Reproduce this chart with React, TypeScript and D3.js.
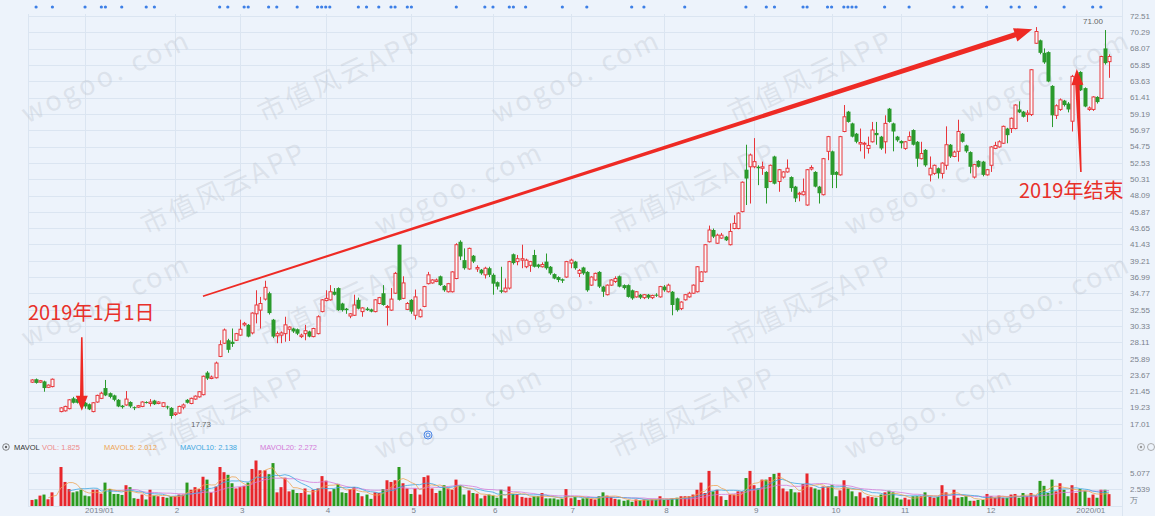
import React from 'react';
import * as d3 from 'd3';

const W = 1155;
const H = 516;

// ---- axis / label data ----
const priceTicks = [72.51, 70.29, 68.07, 65.85, 63.63, 61.41, 59.19, 56.97, 54.75, 52.53, 50.31, 48.09, 45.87, 43.65, 41.43, 39.21, 36.99, 34.77, 32.55, 30.33, 28.11, 25.89, 23.67, 21.45, 19.23, 17.01];
const volTicks = [5.077, 2.539];
const monthLabels = ['2019/01', '2', '3', '4', '5', '6', '7', '8', '9', '10', '11', '12', '2020/01'];
const monthStarts = [13, 35, 51, 72, 93, 113, 132, 155, 177, 196, 213, 234, 256];
const eventMarks = [1, 5, 13, 17, 18, 22, 28, 30, 46, 48, 52, 53, 58, 60, 65, 70, 71, 72, 73, 80, 82, 85, 88, 89, 92, 93, 104, 111, 113, 117, 118, 121, 130, 136, 147, 150, 160, 175, 180, 182, 189, 190, 195, 196, 199, 200, 201, 202, 209, 215, 226, 228, 234, 240, 242, 246, 253, 260, 262];
const legendNames = ['VOL', 'MAVOL5', 'MAVOL10', 'MAVOL20'];
const legendValues = [1.825, 2.012, 2.138, 2.272];
const maxLabel = 71.0;
const minLabel = 17.73;

// ---- daily candles (index 6 = no trading) ----
const opens = [22.7, 23.1, 22.7, 22.8, 22.0, 22.1, null, 18.7, 18.8, 19.1, 20.5, 20.4, 20.0, 19.9, 19.7, 18.7, 20.0, 20.5, 21.9, 21.2, 20.9, 20.3, 19.5, 19.6, 20.0, 19.3, 19.3, 19.4, 20.0, 19.8, 20.2, 19.8, 19.4, 19.4, 19.2, 18.3, 18.5, 19.3, 20.3, 19.8, 20.4, 20.7, 21.0, 24.0, 23.2, 23.3,
  26.2, 28.0, 28.4, 28.2, 28.4, 29.1, 30.5, 30.5, 29.4, 32.0, 32.5, 34.0, 34.8, 31.2, 29.0, 29.1, 29.3, 29.9, 30.0, 29.9, 28.9, 29.3, 29.6, 28.9, 29.3, 32.3, 33.8, 33.9, 35.0, 35.5, 33.4, 32.7, 31.7, 31.8, 33.9, 32.3, 32.7, 32.6, 32.3, 33.4, 34.8, 32.9, 32.5, 34.8, 41.4, 34.1, 32.6, 33.9, 31.8, 31.6, 33.0, 36.1, 36.2, 36.4, 37.1, 35.8, 35.0,
  35.0, 36.8, 41.8, 39.3, 38.1, 39.9, 38.1, 38.0, 37.3, 38.2, 37.3, 36.3, 35.2, 35.0, 35.5, 40.1, 39.1, 39.3, 38.4, 38.6, 40.0, 38.7, 38.4, 39.1, 38.4, 37.4, 37.0, 36.7, 37.0, 38.9, 39.1, 37.5, 38.3, 37.7, 35.9, 36.6, 37.7, 35.7, 34.6, 35.9, 36.4, 37.1, 35.9, 35.9, 35.2, 34.3, 34.6, 34.2, 34.6, 34.2, 34.6, 34.3, 35.7, 35.0, 35.0, 34.1, 32.7, 33.9, 34.3, 34.8, 35.0, 36.4, 37.7, 41.8, 43.4, 41.6, 42.3, 42.5,
  41.4, 43.6, 43.6, 45.9, 51.6, 52.0, 52.0, 52.0, 51.8, 51.3, 50.0, 53.4, 50.0, 50.6, 51.3, 50.6, 49.3, 48.3, 48.2, 46.8, 51.7, 51.3, 49.3, 48.2, 54.1, 54.1, 51.3, 50.9, 56.8, 59.5, 57.9, 56.5, 55.1, 55.1, 54.5, 55.4, 56.6, 56.1, 55.4, 59.9, 57.9, 56.1, 55.5, 54.5, 55.6, 57.0, 55.4, 53.1, 54.3, 50.9, 51.1, 51.8, 51.1, 52.2, 55.0, 53.4, 54.1, 56.5, 54.9, 54.0, 50.6, 52.8, 52.7, 50.9, 52.2, 54.5, 54.7,
  55.2, 57.2, 57.2, 57.2, 59.8, 59.5, 59.1, 59.1, 68.8, 69.2, 67.5, 67.6, 63.0, 59.0, 59.8, 61.0, 60.6, 58.2, 63.3, 64.9, 62.7, 59.8, 59.8, 61.5, 61.3, 68.1, 66.3];
const closes = [23.0, 22.6, 22.9, 21.9, 22.3, 23.1, null, 19.2, 19.4, 20.3, 19.9, 19.9, 19.8, 19.4, 19.0, 19.9, 20.9, 21.2, 20.9, 20.7, 20.3, 19.4, 19.3, 20.4, 19.4, 19.2, 19.5, 20.0, 19.9, 20.0, 19.7, 20.0, 19.9, 19.3, 18.1, 18.5, 19.4, 19.6, 19.9, 20.5, 20.8, 21.4, 23.5, 23.2, 23.4, 25.3,
  27.8, 29.8, 27.1, 27.9, 29.3, 29.9, 30.7, 28.9, 32.1, 33.2, 33.4, 35.6, 32.1, 28.9, 29.3, 29.4, 30.5, 30.2, 29.6, 29.3, 29.1, 29.7, 28.9, 30.0, 31.6, 33.9, 34.1, 35.0, 34.6, 32.5, 32.5, 32.5, 32.0, 33.2, 32.7, 32.8, 32.5, 32.3, 33.9, 34.2, 33.2, 33.0, 34.0, 37.5, 33.9, 36.2, 33.4, 32.3, 34.3, 32.5, 35.7, 37.3, 36.6, 36.6, 35.9, 35.2, 36.1,
  37.7, 41.4, 39.8, 38.2, 40.9, 39.1, 38.3, 37.5, 38.2, 37.3, 36.1, 35.7, 35.0, 35.5, 39.1, 38.9, 39.5, 39.5, 39.3, 39.1, 38.4, 38.4, 38.7, 38.2, 37.5, 36.8, 36.6, 36.5, 39.1, 39.3, 38.2, 37.9, 37.5, 35.2, 37.0, 37.5, 35.7, 35.0, 35.9, 36.6, 36.8, 35.7, 35.5, 34.3, 34.1, 35.0, 34.2, 34.6, 34.2, 34.5, 34.5, 35.7, 35.2, 35.9, 33.2, 32.5, 33.6, 34.6, 34.8, 35.9, 38.4, 37.7, 41.4, 43.4, 42.5, 42.7, 42.7, 42.0,
  43.2, 44.3, 45.7, 49.9, 50.4, 53.6, 52.7, 51.8, 52.0, 49.1, 52.2, 49.7, 51.6, 51.3, 51.8, 49.1, 47.7, 48.4, 48.6, 51.6, 51.9, 49.3, 48.4, 53.1, 56.1, 50.9, 50.9, 56.1, 58.8, 58.1, 56.1, 55.4, 55.3, 55.2, 54.9, 57.0, 56.3, 54.5, 57.9, 58.1, 56.8, 55.6, 55.2, 55.4, 56.1, 55.0, 53.1, 53.8, 52.2, 51.8, 52.2, 51.1, 52.5, 55.0, 53.4, 54.0, 56.8, 55.4, 54.1, 52.0, 52.3, 52.0, 50.9, 51.6, 54.7, 54.9, 55.4,
  57.5, 56.3, 58.6, 60.4, 59.4, 58.8, 59.3, 65.2, 70.4, 67.5, 66.2, 63.6, 59.0, 60.3, 61.1, 60.4, 59.8, 64.3, 64.1, 62.4, 60.2, 60.0, 61.5, 60.8, 67.0, 66.1, 67.0];
const highs = [23.1, 23.2, 23.0, 22.9, 22.4, 23.2, null, 19.3, 19.5, 20.4, 20.7, 20.5, 20.1, 20.0, 19.8, 20.0, 21.0, 21.4, 23.0, 21.3, 21.0, 20.4, 19.6, 21.5, 20.1, 19.4, 19.6, 20.1, 20.1, 20.4, 20.3, 20.1, 20.0, 19.5, 19.3, 18.6, 19.5, 19.8, 20.4, 20.6, 20.9, 21.5, 23.6, 24.2, 23.6, 25.5,
  28.4, 30.0, 28.6, 30.0, 29.4, 31.2, 30.9, 30.6, 32.2, 35.2, 34.3, 36.5, 35.0, 31.3, 29.6, 29.6, 31.6, 30.3, 30.1, 30.0, 29.3, 30.5, 29.7, 30.1, 31.8, 34.0, 35.2, 35.9, 35.5, 35.6, 33.5, 32.8, 32.1, 34.6, 34.2, 32.9, 32.9, 32.7, 34.0, 34.3, 35.9, 33.2, 35.5, 37.7, 41.4, 37.1, 33.6, 34.0, 35.3, 32.7, 35.8, 37.7, 36.7, 36.8, 37.2, 35.9, 36.2,
  37.8, 41.6, 42.0, 40.9, 41.0, 40.0, 38.6, 38.1, 38.4, 38.4, 37.5, 36.4, 38.4, 36.8, 39.2, 40.2, 40.0, 41.4, 39.5, 39.2, 40.7, 38.8, 39.0, 40.2, 38.5, 37.5, 37.1, 36.8, 39.2, 39.5, 39.2, 38.1, 38.4, 37.8, 37.1, 37.6, 37.8, 35.8, 36.0, 36.7, 37.1, 37.2, 36.0, 36.0, 35.3, 35.1, 34.7, 34.7, 34.7, 34.6, 34.8, 35.8, 35.9, 36.1, 35.1, 34.2, 33.7, 34.7, 35.0, 36.0, 38.5, 37.8, 41.5, 44.0, 43.6, 42.9, 43.0, 42.6,
  44.3, 45.4, 45.8, 50.0, 55.0, 53.8, 55.9, 52.2, 52.7, 51.4, 52.3, 53.5, 51.7, 51.4, 53.0, 50.7, 49.4, 48.6, 50.4, 51.7, 52.2, 51.4, 49.4, 53.2, 56.2, 54.2, 51.4, 56.2, 60.4, 59.6, 58.0, 56.6, 57.2, 55.4, 56.1, 58.1, 58.1, 56.2, 59.0, 60.0, 58.0, 56.2, 55.6, 55.5, 56.8, 57.1, 55.5, 55.4, 54.4, 53.4, 52.3, 51.9, 52.6, 57.5, 55.1, 54.2, 58.4, 56.6, 55.0, 54.1, 52.4, 52.9, 52.8, 51.7, 54.8, 55.4, 55.6,
  57.6, 57.3, 58.7, 60.5, 60.9, 59.6, 59.7, 65.3, 71.0, 69.3, 68.1, 67.7, 63.1, 60.5, 61.3, 61.1, 60.8, 64.5, 64.6, 65.0, 62.8, 60.2, 61.6, 61.6, 67.1, 70.6, 67.3];
const lows = [22.6, 22.5, 22.6, 21.4, 21.9, 22.0, null, 18.6, 18.7, 19.0, 19.8, 19.8, 19.3, 19.1, 18.9, 18.6, 19.9, 20.4, 20.8, 20.5, 20.1, 19.3, 19.1, 19.5, 19.2, 18.9, 19.2, 19.3, 19.8, 19.4, 19.6, 19.7, 19.3, 19.0, 17.73, 18.1, 18.4, 19.0, 19.8, 19.7, 20.3, 20.6, 20.9, 23.0, 23.1, 23.2,
  26.1, 27.9, 26.7, 27.5, 28.3, 29.0, 30.3, 28.8, 29.2, 30.7, 30.0, 33.8, 31.9, 28.7, 28.0, 28.0, 28.2, 28.3, 29.4, 29.1, 28.7, 28.4, 28.8, 28.8, 29.2, 32.2, 33.7, 33.8, 34.5, 32.4, 32.3, 32.0, 31.4, 31.7, 32.6, 31.6, 32.4, 32.2, 32.2, 33.3, 33.1, 30.4, 32.4, 34.7, 33.8, 34.0, 32.5, 32.0, 31.2, 31.5, 32.9, 36.0, 36.1, 36.3, 35.8, 35.0, 34.9,
  34.9, 36.7, 39.3, 38.0, 38.0, 38.9, 37.7, 37.3, 36.8, 37.0, 34.6, 35.3, 34.8, 34.9, 35.3, 38.7, 38.6, 38.2, 38.2, 37.7, 38.3, 38.2, 38.3, 38.0, 37.3, 36.7, 36.3, 36.2, 36.9, 38.2, 38.0, 37.0, 37.3, 35.0, 35.8, 36.5, 35.5, 34.3, 34.5, 35.8, 36.2, 35.6, 35.3, 34.2, 33.9, 34.2, 34.0, 34.0, 34.0, 34.0, 34.3, 34.2, 35.0, 34.9, 31.8, 32.3, 32.5, 33.8, 34.2, 34.7, 34.9, 36.3, 37.6, 41.7, 42.3, 41.5, 42.2, 41.9,
  41.3, 43.5, 43.5, 45.8, 46.8, 47.0, 51.8, 49.5, 50.9, 47.0, 49.9, 49.6, 48.6, 50.4, 51.2, 48.6, 47.2, 47.3, 48.1, 46.7, 51.5, 49.2, 47.0, 48.1, 52.9, 49.1, 49.1, 50.8, 56.7, 58.0, 56.0, 55.2, 54.1, 53.1, 53.8, 55.3, 55.0, 54.3, 53.8, 58.0, 54.1, 55.4, 54.5, 54.3, 55.5, 54.9, 52.0, 53.0, 52.0, 50.0, 50.9, 50.4, 50.4, 51.6, 53.2, 53.3, 52.7, 55.3, 53.9, 51.1, 50.4, 51.9, 50.7, 50.8, 51.3, 54.4, 54.6,
  55.1, 55.2, 56.6, 57.1, 59.3, 58.7, 58.1, 58.9, 68.7, 67.3, 66.0, 63.5, 57.4, 58.5, 59.6, 60.2, 59.4, 56.8, 63.0, 62.3, 60.1, 59.6, 59.6, 60.6, 61.2, 65.9, 64.1];

// volume, in 万
const volumes = [0.93, 1.03, 1.6, 1.76, 1.03, 2.1, null, 6.0, 3.7, 2.6, 2.1, 2.25, 2.5, 1.6, 1.5, 2.5, 2.5, 1.9, 3.6, 2.6, 1.85, 1.85, 1.7, 3.2, 2.9, 1.2, 1.1, 1.76, 1.0, 2.5, 1.6, 1.5, 1.4, 1.27, 1.5, 1.5, 1.76, 1.76, 3.6, 2.5, 2.9, 2.6, 4.5, 4.06, 2.1, 3.0,
  6.0, 5.2, 4.8, 3.5, 2.7, 2.9, 3.1, 3.6, 5.7, 7.0, 5.5, 5.5, 4.9, 6.6, 2.1, 2.9, 4.35, 2.25, 2.5, 2.0, 2.0, 2.7, 1.76, 2.5, 2.7, 4.6, 3.9, 2.25, 2.6, 3.4, 2.1, 2.0, 2.6, 2.9, 2.0, 1.5, 1.76, 1.1, 2.1, 2.0, 2.6, 3.96, 3.7, 3.96, 6.0, 3.5, 2.7, 1.85, 2.7, 1.76, 4.45, 4.7, 2.7, 2.0, 2.35, 3.2, 2.7,
  2.5, 4.06, 3.1, 1.76, 2.4, 2.0, 1.9, 1.17, 1.6, 1.76, 1.6, 1.27, 2.5, 1.17, 3.0, 1.85, 1.85, 1.4, 1.27, 1.27, 1.5, 1.5, 2.0, 1.17, 1.17, 1.17, 1.0, 1.1, 2.6, 1.2, 1.37, 0.93, 1.17, 1.27, 1.1, 1.0, 1.5, 2.1, 1.6, 1.37, 1.1, 1.0, 0.8, 0.9, 0.65, 1.0, 0.9, 1.0, 0.93, 1.0, 1.0, 1.5, 0.93, 1.0, 1.17, 1.27, 1.5, 1.5, 1.5, 1.76, 2.5, 3.6, 2.0, 5.4, 2.25, 2.5, 1.5, 0.93,
  1.76, 1.76, 2.25, 2.25, 4.3, 5.4, 3.2, 2.7, 4.06, 4.06, 4.45, 4.94, 5.1, 2.7, 2.25, 2.6, 2.1, 2.1, 3.4, 5.0, 2.9, 2.7, 2.5, 3.0, 3.0, 3.2, 1.5, 2.4, 3.96, 2.7, 2.25, 1.5, 2.1, 1.27, 1.5, 1.37, 1.27, 1.76, 2.1, 2.35, 2.1, 1.27, 1.0, 1.27, 1.0, 1.5, 1.5, 1.5, 2.1, 1.4, 1.27, 1.4, 3.2, 2.1, 1.0, 2.5, 1.27, 1.37, 1.5, 0.8, 0.8, 0.93, 0.93, 1.85, 1.5, 1.27, 1.6,
  1.27, 1.27, 1.76, 1.85, 1.27, 2.0, 1.5, 2.0, 1.6, 3.86, 3.1, 2.0, 4.06, 2.25, 3.5, 2.5, 1.5, 3.2, 2.0, 2.6, 2.35, 1.27, 1.76, 1.27, 2.5, 2.5, 1.825];

const N = closes.length;
const UP = '#e8363b';
const DOWN = '#2a9a2c';
const BG = '#edf3fb';
const GRID = '#dbe5f1';
const AXIS_TXT = '#7a828c';

function movingAvg(n: number) {
  return volumes.map((_, i) => {
    if (i < n - 1) return null;
    const w = volumes.slice(i - n + 1, i + 1).filter((v) => v != null) as number[];
    return d3.mean(w) ?? null;
  });
}

function arrowPoints(sx: number, sy: number, ex: number, ey: number, w0: number, w1: number, hl: number, hw: number) {
  const dx = ex - sx, dy = ey - sy, len = Math.hypot(dx, dy);
  const ux = dx / len, uy = dy / len, nx = -uy, ny = ux;
  const bx = ex - ux * hl, by = ey - uy * hl;
  const pts = [
    [sx + nx * w0, sy + ny * w0], [bx + nx * w1, by + ny * w1], [bx + nx * hw, by + ny * hw], [ex, ey],
    [bx - nx * hw, by - ny * hw], [bx - nx * w1, by - ny * w1], [sx - nx * w0, sy - ny * w0],
  ];
  return pts.map((p) => p.map((v) => v.toFixed(1)).join(',')).join(' ');
}

export default function App() {
  const x = d3.scaleLinear().domain([0, N - 1]).range([32, 1109]);
  const y = d3.scaleLinear().domain([17.01, 72.51]).range([424, 16]);
  const yv = d3.scaleLinear().domain([0, 5.077]).range([506, 473]);

  const ma5 = movingAvg(5), ma10 = movingAvg(10), ma20 = movingAvg(20);
  const line = d3.line<number | null>()
    .defined((d) => d != null)
    .x((_, i) => x(i))
    .y((d) => yv(d as number));

  const wmTexts = ['wogoo. com', '市值风云APP'];
  const watermarks: { x: number; y: number; t: string }[] = [];
  for (let r = 0; r < 4; r++) {
    const cols = r % 2 === 0 ? 5 : 4;
    for (let k = 0; k < cols; k++) {
      watermarks.push({ x: 110 + k * 235 + (r % 2) * 118, y: 85 + r * 112, t: wmTexts[(k + r) % 2] });
    }
  }

  const legendColors = ['#ee8a8a', '#eea555', '#3fa7df', '#d47ad8'];
  const legendX = [42, 104, 180, 260];

  return (
    <div style={{ position: 'absolute', left: 0, top: 0, width: W, height: H }}>
      <svg width={W} height={H} style={{ display: 'block', fontFamily: 'Arial, "Liberation Sans", sans-serif' }}>
        <rect x={0} y={0} width={W} height={H} fill={BG} />

        {/* grid */}
        {priceTicks.map((t) => (
          <line key={'g' + t} x1={28} x2={1122} y1={Math.round(y(t)) + 0.5} y2={Math.round(y(t)) + 0.5} stroke={GRID} strokeWidth={1} />
        ))}
        {monthStarts.map((m) => (
          <line key={'v' + m} x1={Math.round(x(m)) + 0.5} x2={Math.round(x(m)) + 0.5} y1={14} y2={506} stroke={GRID} strokeWidth={1} />
        ))}
        <line x1={28.5} x2={28.5} y1={14} y2={506} stroke={GRID} />
        <line x1={1122.5} x2={1122.5} y1={0} y2={516} stroke={GRID} />
        <line x1={28} x2={1122} y1={438.5} y2={438.5} stroke={GRID} />
        {volTicks.map((t) => (
          <line key={'vg' + t} x1={28} x2={1122} y1={Math.round(yv(t)) + 0.5} y2={Math.round(yv(t)) + 0.5} stroke={GRID} />
        ))}
        <line x1={28} x2={1122} y1={506.5} y2={506.5} stroke={GRID} />

        {/* watermark */}
        <g fill="#b7bec8" fillOpacity={0.32} fontFamily='"Noto Sans CJK SC", sans-serif' fontSize={27}>
          {watermarks.map((w, i) => (
            <text key={'w' + i} x={w.x} y={w.y} transform={`rotate(-25 ${w.x} ${w.y})`} textAnchor="middle" letterSpacing={3}>
              {w.t}
            </text>
          ))}
        </g>

        {/* event dots */}
        {eventMarks.map((e, i) => (
          <circle key={'e' + i} cx={x(e)} cy={7} r={1.6} fill="#3d7fe6" />
        ))}

        {/* candles */}
        {closes.map((c, i) => {
          const o = opens[i];
          if (c == null || o == null) return null;
          const up = c >= o;
          const col = up ? UP : DOWN;
          const cx = Math.round(x(i)) + 0.5;
          const top = y(Math.max(o, c));
          const bot = y(Math.min(o, c));
          const h = Math.max(1, bot - top);
          return (
            <g key={'c' + i}>
              <line x1={cx} x2={cx} y1={y(highs[i] as number)} y2={y(lows[i] as number)} stroke={col} strokeWidth={1} />
              {up ? (
                <rect x={cx - 1.5} y={top} width={3} height={h} fill="#f8fbfe" stroke={col} strokeWidth={1} />
              ) : (
                <rect x={cx - 2} y={top} width={4} height={h} fill={col} />
              )}
            </g>
          );
        })}

        {/* volume bars */}
        {volumes.map((v, i) => {
          const o = opens[i], c = closes[i];
          if (v == null || o == null || c == null) return null;
          const cx = Math.round(x(i));
          return <rect key={'b' + i} x={cx - 1.5} y={yv(v)} width={3} height={yv(0) - yv(v)} fill={c >= o ? '#e8262b' : '#2b9a1e'} />;
        })}
        <path d={line(ma20) ?? ''} fill="none" stroke="#d47ad8" strokeWidth={0.8} />
        <path d={line(ma10) ?? ''} fill="none" stroke="#3fa7df" strokeWidth={0.8} />
        <path d={line(ma5) ?? ''} fill="none" stroke="#eea555" strokeWidth={0.8} />

        {/* axes labels */}
        {priceTicks.map((t) => (
          <text key={'t' + t} x={1130} y={y(t)} dy="0.35em" fontSize={8} fill={AXIS_TXT}>{t.toFixed(2)}</text>
        ))}
        {volTicks.map((t) => (
          <text key={'vt' + t} x={1130} y={yv(t)} dy="0.35em" fontSize={8} fill={AXIS_TXT}>{t.toFixed(3)}</text>
        ))}
        <text x={1130} y={500} dy="0.35em" fontSize={8} fill={AXIS_TXT}>万</text>
        {monthStarts.map((m, i) => (
          <text key={'m' + m} x={x(m)} y={513} fontSize={8} fill={AXIS_TXT}>{monthLabels[i]}</text>
        ))}

        {/* legend */}
        <circle cx={6} cy={447} r={3.3} fill="none" stroke="#666" strokeWidth={0.8} />
        <circle cx={6} cy={447} r={1.2} fill="#666" />
        <text x={14} y={447} dy="0.35em" fontSize={7.5} fill="#333">MAVOL</text>
        {legendNames.map((n, i) => (
          <text key={'l' + n} x={legendX[i]} y={447} dy="0.35em" fontSize={7.5} fill={legendColors[i]}>{`${n}: ${legendValues[i].toFixed(3)}`}</text>
        ))}
        <circle cx={1141} cy={447} r={3.5} fill="none" stroke="#999" strokeWidth={0.8} />
        <circle cx={1141} cy={447} r={1.2} fill="#999" />
        <circle cx={1151} cy={447} r={3.5} fill="none" stroke="#999" strokeWidth={0.8} />
        <circle cx={428} cy={435} r={4} fill="none" stroke="#4c86e6" strokeWidth={1} />
        <circle cx={428} cy={435} r={2} fill="none" stroke="#4c86e6" strokeWidth={1} />

        {/* extreme labels */}
        <text x={1083} y={21} dy="0.35em" fontSize={8} fill="#666">{maxLabel.toFixed(2)}</text>
        <text x={191} y={424} dy="0.35em" fontSize={8} fill="#666">{minLabel.toFixed(2)}</text>

        {/* annotations */}
        <polygon points={arrowPoints(x(41.9), y(34.4), x(245.2), y(70.7), 0.8, 2.6, 18, 7)} fill="#ee2a24" />
        <polygon points={arrowPoints(x(12.2), y(28.8), x(12.2), y(18.8), 0.8, 1.8, 15, 6)} fill="#ee2a24" />
        <polygon points={arrowPoints(x(257.1), y(51.3), x(256.1), y(65.3), 0.8, 2.2, 16, 6)} fill="#ee2a24" />
        <text x={28} y={320} fontSize={20} fill="#e8302a" fontFamily='"Noto Sans CJK SC", sans-serif'>2019年1月1日</text>
        <text x={1019} y={198} fontSize={20} fill="#e8302a" fontFamily='"Noto Sans CJK SC", sans-serif'>2019年结束</text>
      </svg>
    </div>
  );
}
